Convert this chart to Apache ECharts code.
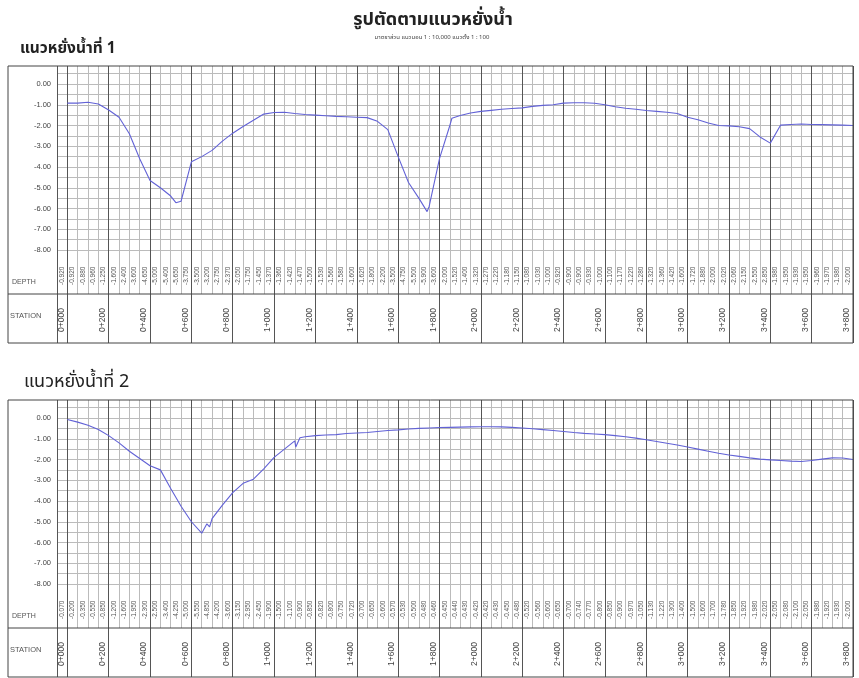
<!DOCTYPE html>
<html><head><meta charset="utf-8">
<script src="https://cdn.jsdelivr.net/npm/echarts@6/dist/echarts.min.js"></script>
<style>html,body{margin:0;padding:0;background:#fff}#c{width:859px;height:678px}</style>
</head><body><div id="c"></div><script>
// ---- data ----
const stations = [0,50,100,150,200,250,300,350,400,450,500,550,600,650,700,750,800,850,900,950,
  1000,1050,1100,1150,1200,1250,1300,1350,1400,1450,1500,1550,1600,1650,1700,1750,1800,1850,1900,1950,
  2000,2050,2100,2150,2200,2250,2300,2350,2400,2450,2500,2550,2600,2650,2700,2750,2800,2850,2900,2950,
  3000,3050,3100,3150,3200,3250,3300,3350,3400,3450,3500,3550,3600,3650,3700,3750,3800];
const depth1 = [-0.92,-0.92,-0.88,-0.96,-1.25,-1.60,-2.40,-3.60,-4.65,-5.00,-5.40,-5.65,-3.75,-3.50,-3.20,-2.75,-2.37,-2.05,-1.75,-1.45,
  -1.37,-1.36,-1.42,-1.47,-1.50,-1.53,-1.56,-1.58,-1.60,-1.62,-1.80,-2.20,-3.50,-4.75,-5.50,-5.90,-3.60,-2.00,-1.52,-1.40,
  -1.32,-1.27,-1.22,-1.18,-1.15,-1.08,-1.03,-1.00,-0.92,-0.90,-0.90,-0.93,-1.00,-1.10,-1.17,-1.22,-1.28,-1.32,-1.36,-1.42,
  -1.60,-1.72,-1.88,-2.00,-2.02,-2.06,-2.15,-2.55,-2.85,-1.98,-1.95,-1.93,-1.95,-1.96,-1.97,-1.98,-2.00];
const depth2 = [-0.07,-0.20,-0.35,-0.55,-0.85,-1.20,-1.60,-1.95,-2.30,-2.50,-3.40,-4.25,-5.00,-5.55,-4.85,-4.20,-3.60,-3.15,-2.95,-2.45,
  -1.90,-1.50,-1.10,-0.90,-0.85,-0.82,-0.80,-0.75,-0.72,-0.70,-0.65,-0.60,-0.57,-0.53,-0.50,-0.48,-0.46,-0.45,-0.44,-0.43,
  -0.42,-0.42,-0.43,-0.45,-0.48,-0.52,-0.56,-0.60,-0.65,-0.70,-0.74,-0.77,-0.80,-0.85,-0.90,-0.97,-1.05,-1.13,-1.22,-1.30,
  -1.40,-1.50,-1.60,-1.70,-1.78,-1.85,-1.92,-1.98,-2.02,-2.05,-2.08,-2.10,-2.05,-1.98,-1.92,-1.93,-2.00];
const extra1 = [[525,-5.72],[1740,-6.15],[1860,-1.65]];
const extra2 = [[675,-5.10],[688,-5.25],[1105,-1.40],[1125,-0.95]];
const stationTicks = [-50,0,200,400,600,800,1000,1200,1400,1600,1800,2000,2200,2400,2600,2800,3000,3200,3400,3600,3800];
const stationLabels = [0,200,400,600,800,1000,1200,1400,1600,1800,2000,2200,2400,2600,2800,3000,3200,3400,3600,3800];
const depthLabelTicks = [-8,-7,-6,-5,-4,-3,-2,-1,0];
const depthGridTicks = [-8,-7.5,-7,-6.5,-6,-5.5,-5,-4.5,-4,-3.5,-3,-2.5,-2,-1.5,-1,-0.5,0,0.5];
const mainTitle = 'รูปตัดตามแนวหยั่งน้ำ';
const subTitle = 'มาตราส่วน แนวนอน 1 : 10,000 แนวตั้ง 1 : 100';
const panelTitles = ['แนวหยั่งน้ำที่ 1','แนวหยั่งน้ำที่ 2'];
const profiles = [depth1, depth2];
const extras = [extra1, extra2];

// ---- layout ----
const FL = 8, GL = 57, GR = 853, W = 859;
const tops = [66, 400];
const PXM = 20.75, ZERO_OFF = 18, ROW_A = 228, ROW_B = 277;
const yMax = ZERO_OFF / PXM, yMin = -(ROW_A - ZERO_OFF) / PXM;
const thai = '"Noto Sans Thai","Noto Sans","DejaVu Sans",sans-serif';
const LIGHT = '#bbbbbb', DARK = '#555';
const narrow = '"Liberation Sans Narrow","Liberation Sans",sans-serif';

const fmtStation = v => Math.floor(v / 1000) + '+' + String(v % 1000).padStart(3, '0');

const grid = [], xAxis = [], yAxis = [], series = [], graphic = [];
profiles.forEach((dep, p) => {
  const T = tops[p];
  const a = 2 * p, b = 2 * p + 1;
  grid.push({left: GL, right: W - GR, top: T, height: ROW_A});
  grid.push({left: GL, right: W - GR, top: T, height: ROW_B});
  xAxis.push({gridIndex: a, type: 'value', min: -50, max: 3800, interval: 50,
    axisLine: {show: false}, axisTick: {show: false},
    splitLine: {show: true, lineStyle: {color: LIGHT, width: 1}},
    axisLabel: {show: true, inside: true, rotate: 90, margin: 9, fontSize: 6.5, color: '#555',
      fontFamily: narrow, verticalAlign: 'bottom', lineHeight: 10,
      formatter: v => { const i = stations.indexOf(v); return i < 0 ? '' : dep[i].toFixed(3); }}});
  xAxis.push({gridIndex: b, type: 'value', min: -50, max: 3800,
    axisLine: {show: false}, axisTick: {show: false, customValues: stationTicks},
    splitLine: {show: true, lineStyle: {color: DARK, width: 1}},
    axisLabel: {show: true, inside: true, rotate: 90, margin: 11, fontSize: 8.5, color: '#444',
      fontFamily: narrow, verticalAlign: 'bottom', lineHeight: 12,
      customValues: stationLabels, formatter: fmtStation}});
  yAxis.push({gridIndex: a, type: 'value', min: yMin, max: yMax,
    axisLine: {show: false}, axisTick: {show: false, customValues: depthGridTicks},
    splitLine: {show: true, lineStyle: {color: LIGHT, width: 1}},
    axisLabel: {show: true, margin: 6, fontSize: 7.5, color: '#444',
      fontFamily: 'Liberation Sans, sans-serif', customValues: depthLabelTicks,
      formatter: v => v.toFixed(2)}});
  yAxis.push({gridIndex: b, type: 'value', min: 0, max: 1, show: false, splitLine: {show: false}});
  const data = stations.map((s, i) => [s, dep[i]]).concat(extras[p]).sort((m, n) => m[0] - n[0]);
  series.push({type: 'line', xAxisIndex: a, yAxisIndex: a, data, showSymbol: false, symbol: 'none',
    lineStyle: {color: '#6262d6', width: 1.1}, z: 5, animation: false});
  // frame & row separators
  graphic.push({type: 'rect', shape: {x: FL, y: T, width: GR - FL, height: ROW_B},
    style: {fill: null, stroke: '#444', lineWidth: 1}, z: 10});
  graphic.push({type: 'line', shape: {x1: FL, y1: T + ROW_A, x2: GR, y2: T + ROW_A},
    style: {stroke: '#444', lineWidth: 1}, z: 10});
  graphic.push({type: 'text', x: 12, y: T + 216, style: {text: 'DEPTH', fontSize: 7, fill: '#555',
    fontFamily: 'Liberation Sans, sans-serif', textVerticalAlign: 'middle'}});
  graphic.push({type: 'text', x: 10, y: T + 250, style: {text: 'STATION', fontSize: 7.5, fill: '#555',
    fontFamily: 'Liberation Sans, sans-serif', textVerticalAlign: 'middle'}});
});
graphic.push({type: 'text', x: 433, y: 21, style: {text: mainTitle, fontSize: 18, fontWeight: 'bold',
  fill: '#222', fontFamily: thai, textAlign: 'center', textVerticalAlign: 'middle'}});
graphic.push({type: 'text', x: 432, y: 38, style: {text: subTitle, fontSize: 6, fill: '#444',
  fontFamily: thai, textAlign: 'center', textVerticalAlign: 'middle'}});
graphic.push({type: 'text', x: 20, y: 50, style: {text: panelTitles[0], fontSize: 15.5, fontWeight: 'bold',
  fill: '#222', fontFamily: thai, textVerticalAlign: 'middle'}});
graphic.push({type: 'text', x: 24, y: 383, style: {text: panelTitles[1], fontSize: 18,
  fill: '#222', fontFamily: thai, textVerticalAlign: 'middle'}});

const chart = echarts.init(document.getElementById('c'), null, {renderer: 'canvas'});
chart.setOption({animation: false, backgroundColor: '#fff', grid, xAxis, yAxis, series, graphic});
</script></body></html>
